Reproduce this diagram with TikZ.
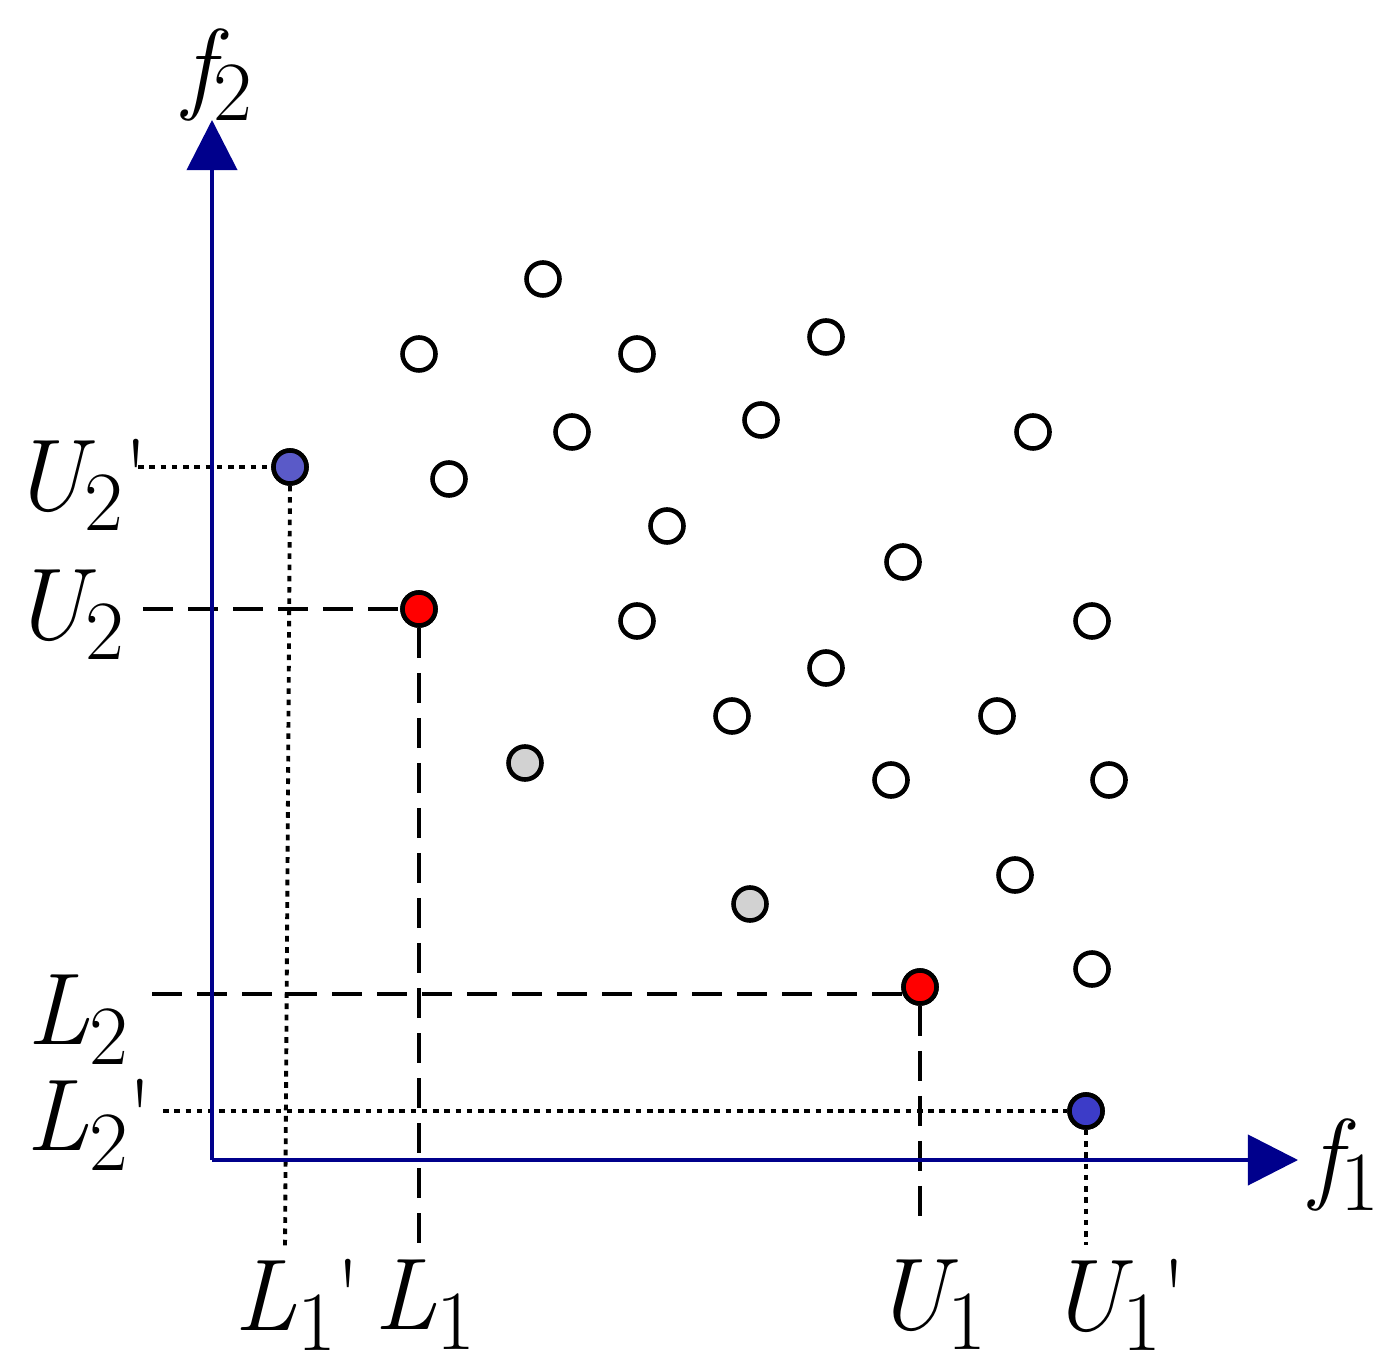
\documentclass[tikz,border=0pt]{standalone}
\usetikzlibrary{arrows.meta}
\newcommand{\lab}[3]{{\itshape #1}\raisebox{-0.45ex}{\fontsize{24}{24}\selectfont #2}#3}
\begin{document}
\begin{tikzpicture}[x=0.01cm, y=-0.01cm, thick]
\tikzstyle{pt}=[circle, draw=black, line width=1.3pt, minimum size=0.33cm, inner sep=0pt, fill=white]
\tikzstyle{axis}=[draw={rgb,255:red,0;green,0;blue,140}, line width=1.1pt, -{Triangle[length=0.5cm, width=0.5cm]}]
\tikzstyle{dashln}=[line width=1.1pt, dash pattern=on 0.3cm off 0.15cm]
\tikzstyle{dotln}=[line width=1.1pt, dash pattern=on 1.6pt off 1.6pt]
\tikzstyle{lbl}=[font=\fontsize{29}{29}\selectfont, inner sep=0pt]
\useasboundingbox (0,0) rectangle (1398,1371);

\coordinate (O) at (212,1160);
\coordinate (Yend) at (212,120);
\coordinate (Xend) at (1298,1160);

% guide lines
\coordinate (U2s) at (143,609);
\coordinate (L1e) at (419,1245);
\coordinate (L2s) at (152,994);
\coordinate (L2e) at (905,994);
\coordinate (U1e) at (920,1230);
\coordinate (U2ps) at (138,467);
\coordinate (L1pe) at (285,1250);
\coordinate (L2ps) at (163,1111);
\coordinate (U1pe) at (1086,1245);

\node[pt, fill=red] (R1) at (419,609) {};
\node[pt, fill=red] (R2) at (920,987) {};
\node[pt, fill={rgb,255:red,90;green,90;blue,200}] (B1) at (290,467) {};
\node[pt, fill={rgb,255:red,60;green,60;blue,200}] (B2) at (1086,1111) {};

\draw[dashln] (U2s) -- (R1.west);
\draw[dashln] (R1.south) -- (L1e);
\draw[dashln] (L2s) -- (L2e);
\draw[dashln] (R2.south) -- (U1e);
\draw[dotln] (U2ps) -- (B1.west);
\draw[dotln] (B1.south) -- (L1pe);
\draw[dotln] (L2ps) -- (B2.west);
\draw[dotln] (B2.south) -- (U1pe);

\draw[axis] (O) -- (Yend);
\draw[axis] (O) -- (Xend);

% redraw markers on top
\node[pt, fill=red] at (R1) {};
\node[pt, fill=red] at (R2) {};
\node[pt, fill={rgb,255:red,90;green,90;blue,200}] at (B1) {};
\node[pt, fill={rgb,255:red,60;green,60;blue,200}] at (B2) {};

\foreach \px/\py [count=\i] in {543/279,419/354,637/354,826/337,572/432,761/420,1033/432,449/479,667/526,903/562,637/621,1092/621,826/668,732/716,997/716,891/780,1109/780,1015/875,1092/969}
  \node[pt] (P\i) at (\px,\py) {};
\node[pt, fill={rgb,255:red,210;green,210;blue,210}] (G1) at (525,763) {};
\node[pt, fill={rgb,255:red,210;green,210;blue,210}] (G2) at (750,904) {};

\node[lbl] (f2) at (218,75) {\lab{f}{2}{}};
\node[lbl] (f1) at (1345,1165) {\lab{f}{1}{}};
\node[lbl] (U2p) at (80,485) {\lab{U}{2}{\textquotesingle}};
\node[lbl] (U2) at (68,615) {\lab{U}{2}{}};
\node[lbl] (L2) at (78,1020) {\lab{L}{2}{}};
\node[lbl] (L2p) at (90,1125) {\lab{L}{2}{\textquotesingle}};
\node[lbl] (L1p) at (298,1305) {\lab{L}{1}{\textquotesingle}};
\node[lbl] (L1) at (425,1305) {\lab{L}{1}{}};
\node[lbl] (U1) at (930,1305) {\lab{U}{1}{}};
\node[lbl] (U1p) at (1118,1305) {\lab{U}{1}{\textquotesingle}};
\end{tikzpicture}
\end{document}
